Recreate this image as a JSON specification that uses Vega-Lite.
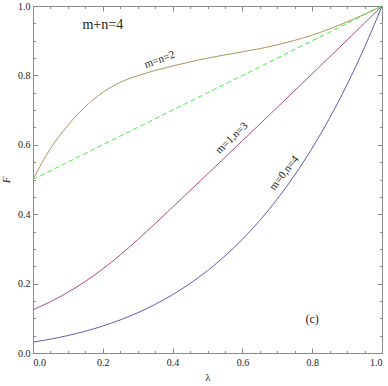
{
  "$schema": "https://vega.github.io/schema/vega-lite/v6.json",
  "width": 349,
  "height": 347,
  "autosize": "none",
  "padding": {"left": 33, "top": 6, "right": 6, "bottom": 33},
  "background": "white",
  "config": {
    "font": "Liberation Serif",
    "view": {"stroke": "#8a8a8a", "strokeWidth": 1},
    "axis": {
      "domain": false,
      "grid": false,
      "tickColor": "#8a8a8a",
      "tickWidth": 1,
      "labelFont": "Liberation Serif",
      "labelFontSize": 10,
      "labelColor": "#222",
      "titleFont": "Liberation Serif",
      "titleFontWeight": "normal",
      "titleColor": "#222"
    },
    "text": {"font": "Liberation Serif", "color": "#222"}
  },
  "datasets": {
    "curves": [
      {"lambda": 0.0, "F": 0.03125, "series": "m=0,n=4"},
      {"lambda": 0.05, "F": 0.0399, "series": "m=0,n=4"},
      {"lambda": 0.1, "F": 0.0503, "series": "m=0,n=4"},
      {"lambda": 0.15, "F": 0.0629, "series": "m=0,n=4"},
      {"lambda": 0.2, "F": 0.0778, "series": "m=0,n=4"},
      {"lambda": 0.25, "F": 0.0954, "series": "m=0,n=4"},
      {"lambda": 0.3, "F": 0.116, "series": "m=0,n=4"},
      {"lambda": 0.35, "F": 0.1401, "series": "m=0,n=4"},
      {"lambda": 0.4, "F": 0.1681, "series": "m=0,n=4"},
      {"lambda": 0.45, "F": 0.2003, "series": "m=0,n=4"},
      {"lambda": 0.5, "F": 0.2373, "series": "m=0,n=4"},
      {"lambda": 0.55, "F": 0.2796, "series": "m=0,n=4"},
      {"lambda": 0.6, "F": 0.3277, "series": "m=0,n=4"},
      {"lambda": 0.65, "F": 0.3822, "series": "m=0,n=4"},
      {"lambda": 0.7, "F": 0.4437, "series": "m=0,n=4"},
      {"lambda": 0.75, "F": 0.5129, "series": "m=0,n=4"},
      {"lambda": 0.8, "F": 0.5905, "series": "m=0,n=4"},
      {"lambda": 0.85, "F": 0.6772, "series": "m=0,n=4"},
      {"lambda": 0.9, "F": 0.7738, "series": "m=0,n=4"},
      {"lambda": 0.95, "F": 0.8811, "series": "m=0,n=4"},
      {"lambda": 1.0, "F": 1.0, "series": "m=0,n=4"},
      {"lambda": 0.0, "F": 0.125, "series": "m=1,n=3"},
      {"lambda": 0.05, "F": 0.1477, "series": "m=1,n=3"},
      {"lambda": 0.1, "F": 0.175, "series": "m=1,n=3"},
      {"lambda": 0.15, "F": 0.2064, "series": "m=1,n=3"},
      {"lambda": 0.2, "F": 0.2424, "series": "m=1,n=3"},
      {"lambda": 0.25, "F": 0.2826, "series": "m=1,n=3"},
      {"lambda": 0.3, "F": 0.3265, "series": "m=1,n=3"},
      {"lambda": 0.35, "F": 0.3728, "series": "m=1,n=3"},
      {"lambda": 0.4, "F": 0.4203, "series": "m=1,n=3"},
      {"lambda": 0.45, "F": 0.468, "series": "m=1,n=3"},
      {"lambda": 0.5, "F": 0.5158, "series": "m=1,n=3"},
      {"lambda": 0.55, "F": 0.5637, "series": "m=1,n=3"},
      {"lambda": 0.6, "F": 0.6117, "series": "m=1,n=3"},
      {"lambda": 0.65, "F": 0.6598, "series": "m=1,n=3"},
      {"lambda": 0.7, "F": 0.708, "series": "m=1,n=3"},
      {"lambda": 0.75, "F": 0.7563, "series": "m=1,n=3"},
      {"lambda": 0.8, "F": 0.8047, "series": "m=1,n=3"},
      {"lambda": 0.85, "F": 0.8532, "series": "m=1,n=3"},
      {"lambda": 0.9, "F": 0.9019, "series": "m=1,n=3"},
      {"lambda": 0.95, "F": 0.9508, "series": "m=1,n=3"},
      {"lambda": 1.0, "F": 1.0, "series": "m=1,n=3"},
      {"lambda": 0.0, "F": 0.5, "series": "m=n=2"},
      {"lambda": 0.025, "F": 0.547, "series": "m=n=2"},
      {"lambda": 0.05, "F": 0.589, "series": "m=n=2"},
      {"lambda": 0.075, "F": 0.625, "series": "m=n=2"},
      {"lambda": 0.1, "F": 0.656, "series": "m=n=2"},
      {"lambda": 0.125, "F": 0.685, "series": "m=n=2"},
      {"lambda": 0.15, "F": 0.71, "series": "m=n=2"},
      {"lambda": 0.175, "F": 0.732, "series": "m=n=2"},
      {"lambda": 0.2, "F": 0.751, "series": "m=n=2"},
      {"lambda": 0.225, "F": 0.767, "series": "m=n=2"},
      {"lambda": 0.25, "F": 0.78, "series": "m=n=2"},
      {"lambda": 0.3, "F": 0.799, "series": "m=n=2"},
      {"lambda": 0.35, "F": 0.814, "series": "m=n=2"},
      {"lambda": 0.4, "F": 0.827, "series": "m=n=2"},
      {"lambda": 0.45, "F": 0.839, "series": "m=n=2"},
      {"lambda": 0.5, "F": 0.85, "series": "m=n=2"},
      {"lambda": 0.55, "F": 0.859, "series": "m=n=2"},
      {"lambda": 0.6, "F": 0.868, "series": "m=n=2"},
      {"lambda": 0.65, "F": 0.877, "series": "m=n=2"},
      {"lambda": 0.7, "F": 0.888, "series": "m=n=2"},
      {"lambda": 0.75, "F": 0.901, "series": "m=n=2"},
      {"lambda": 0.8, "F": 0.916, "series": "m=n=2"},
      {"lambda": 0.85, "F": 0.934, "series": "m=n=2"},
      {"lambda": 0.9, "F": 0.954, "series": "m=n=2"},
      {"lambda": 0.95, "F": 0.976, "series": "m=n=2"},
      {"lambda": 1.0, "F": 1.0, "series": "m=n=2"}
    ],
    "diag": [
      {"lambda": 0.0, "F": 0.5},
      {"lambda": 1.0, "F": 1.0}
    ]
  },
  "resolve": {
    "scale": {"x": "independent", "y": "independent"},
    "axis": {"x": "independent", "y": "independent"}
  },
  "layer": [
    {
      "data": {"name": "curves"},
      "mark": {"type": "line", "interpolate": "monotone", "strokeWidth": 1},
      "encoding": {
        "x": {
          "field": "lambda", "type": "quantitative",
          "scale": {"domain": [0, 1], "nice": false, "zero": false},
          "axis": {"orient": "bottom", "values": [0, 0.2, 0.4, 0.6, 0.8, 1.0], "format": ".1f", "tickSize": -5, "labelPadding": 9, "title": "λ", "titleFontSize": 11, "titlePadding": 4}
        },
        "y": {
          "field": "F", "type": "quantitative",
          "scale": {"domain": [0, 1], "nice": false, "zero": false},
          "axis": {"orient": "left", "values": [0, 0.2, 0.4, 0.6, 0.8, 1.0], "format": ".1f", "tickSize": -5, "labelPadding": 8, "title": "F", "titleFontSize": 11, "titleFontStyle": "italic", "titlePadding": 6}
        },
        "color": {
          "field": "series", "type": "nominal",
          "scale": {"domain": ["m=0,n=4", "m=1,n=3", "m=n=2"], "range": ["#5d5db4", "#aa4f82", "#ab9758"]},
          "legend": null
        }
      }
    },
    {
      "data": {"name": "diag"},
      "mark": {"type": "line", "color": "#44f044", "strokeWidth": 1, "strokeDash": [5, 3]},
      "encoding": {
        "x": {
          "field": "lambda", "type": "quantitative",
          "scale": {"domain": [0, 1], "nice": false, "zero": false},
          "axis": {"orient": "top", "values": [0, 0.2, 0.4, 0.6, 0.8, 1.0], "labels": false, "tickSize": -5, "title": null}
        },
        "y": {
          "field": "F", "type": "quantitative",
          "scale": {"domain": [0, 1], "nice": false, "zero": false},
          "axis": {"orient": "right", "values": [0, 0.2, 0.4, 0.6, 0.8, 1.0], "labels": false, "tickSize": -5, "title": null}
        }
      }
    },
    {
      "data": {"values": [{"lambda": 0.2, "F": 0.944, "label": "m+n=4"}]},
      "mark": {"type": "text", "font": "Liberation Serif", "fontSize": 14, "align": "center", "baseline": "middle"},
      "encoding": {
        "x": {
          "field": "lambda", "type": "quantitative",
          "scale": {"domain": [0, 1], "nice": false, "zero": false},
          "axis": {"orient": "bottom", "values": [0.05, 0.1, 0.15, 0.25, 0.3, 0.35, 0.45, 0.5, 0.55, 0.65, 0.7, 0.75, 0.85, 0.9, 0.95], "labels": false, "tickSize": -2.5, "title": null}
        },
        "y": {
          "field": "F", "type": "quantitative",
          "scale": {"domain": [0, 1], "nice": false, "zero": false},
          "axis": {"orient": "left", "values": [0.05, 0.1, 0.15, 0.25, 0.3, 0.35, 0.45, 0.5, 0.55, 0.65, 0.7, 0.75, 0.85, 0.9, 0.95], "labels": false, "tickSize": -2.5, "title": null}
        },
        "text": {"field": "label"}
      }
    },
    {
      "data": {"values": [{"lambda": 0.80, "F": 0.097, "label": "(c)"}]},
      "mark": {"type": "text", "font": "Liberation Serif", "fontSize": 12, "align": "center", "baseline": "middle"},
      "encoding": {
        "x": {
          "field": "lambda", "type": "quantitative",
          "scale": {"domain": [0, 1], "nice": false, "zero": false},
          "axis": {"orient": "top", "values": [0.05, 0.1, 0.15, 0.25, 0.3, 0.35, 0.45, 0.5, 0.55, 0.65, 0.7, 0.75, 0.85, 0.9, 0.95], "labels": false, "tickSize": -2.5, "title": null}
        },
        "y": {
          "field": "F", "type": "quantitative",
          "scale": {"domain": [0, 1], "nice": false, "zero": false},
          "axis": {"orient": "right", "values": [0.05, 0.1, 0.15, 0.25, 0.3, 0.35, 0.45, 0.5, 0.55, 0.65, 0.7, 0.75, 0.85, 0.9, 0.95], "labels": false, "tickSize": -2.5, "title": null}
        },
        "text": {"field": "label"}
      }
    },
    {
      "data": {"values": [{"lambda": 0.363, "F": 0.845, "label": "m=n=2"}]},
      "mark": {"type": "text", "font": "Liberation Serif", "fontSize": 11, "align": "center", "baseline": "middle", "angle": -20},
      "encoding": {
        "x": {"field": "lambda", "type": "quantitative", "scale": {"domain": [0, 1], "nice": false, "zero": false}, "axis": null},
        "y": {"field": "F", "type": "quantitative", "scale": {"domain": [0, 1], "nice": false, "zero": false}, "axis": null},
        "text": {"field": "label"}
      }
    },
    {
      "data": {"values": [{"lambda": 0.57, "F": 0.619, "label": "m=1,n=3"}]},
      "mark": {"type": "text", "font": "Liberation Serif", "fontSize": 11, "align": "center", "baseline": "middle", "angle": -44},
      "encoding": {
        "x": {"field": "lambda", "type": "quantitative", "scale": {"domain": [0, 1], "nice": false, "zero": false}, "axis": null},
        "y": {"field": "F", "type": "quantitative", "scale": {"domain": [0, 1], "nice": false, "zero": false}, "axis": null},
        "text": {"field": "label"}
      }
    },
    {
      "data": {"values": [{"lambda": 0.72, "F": 0.518, "label": "m=0,n=4"}]},
      "mark": {"type": "text", "font": "Liberation Serif", "fontSize": 11, "align": "center", "baseline": "middle", "angle": -52},
      "encoding": {
        "x": {"field": "lambda", "type": "quantitative", "scale": {"domain": [0, 1], "nice": false, "zero": false}, "axis": null},
        "y": {"field": "F", "type": "quantitative", "scale": {"domain": [0, 1], "nice": false, "zero": false}, "axis": null},
        "text": {"field": "label"}
      }
    }
  ]
}
